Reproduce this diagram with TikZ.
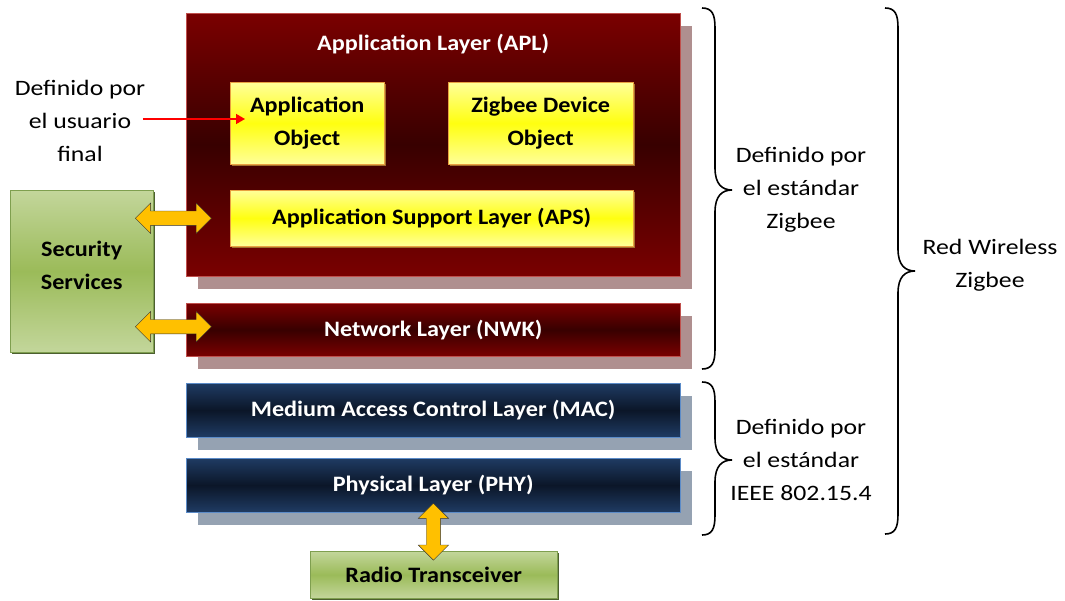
\documentclass[tikz,border=0pt]{standalone}
\usepackage{fontspec}
\setmainfont{Carlito}[FakeStretch=1.1]
\newfontfamily\notefont{Carlito}[FakeStretch=1.17]
\usetikzlibrary{shapes.arrows,shadows,calc,arrows.meta}

\definecolor{layred}{HTML}{7A0000}
\definecolor{layreddark}{HTML}{380000}
\definecolor{layredline}{HTML}{C0504D}
\definecolor{redshadow}{HTML}{AF8F8F}
\definecolor{layblue}{HTML}{1F3B63}
\definecolor{laybluedark}{HTML}{0B1628}
\definecolor{layblueline}{HTML}{5B8BC8}
\definecolor{blueshadow}{HTML}{95A2B2}
\definecolor{objyellow}{HTML}{FFFF99}
\definecolor{objyellowmid}{HTML}{FFFF10}
\definecolor{objline}{HTML}{E8A040}
\definecolor{secgreen}{HTML}{C3D69B}
\definecolor{secgreendark}{HTML}{9BBB59}
\definecolor{secline}{HTML}{7F9F4F}
\definecolor{arrowfill}{HTML}{FFC000}

% curly brace: x, top, tip, bottom
\newcommand{\layerbrace}[4]{%
  \draw[line width=1.6pt] (#1,#2) .. controls (#1+10,#2) and (#1+13,#2+6) .. (#1+13,#2+20)
    -- (#1+13,#3-22) .. controls (#1+13,#3-6) and (#1+20,#3) .. (#1+30,#3)
    .. controls (#1+20,#3) and (#1+13,#3+6) .. (#1+13,#3+22)
    -- (#1+13,#4-20) .. controls (#1+13,#4-6) and (#1+10,#4) .. (#1,#4);}

\begin{document}
\begin{tikzpicture}[x=1pt,y=-1pt,
  boxtext/.style={font=\bfseries\fontsize{22}{33}\selectfont, align=center},
  redlayer/.style={boxtext, draw=layredline, top color=layred, bottom color=layred, middle color=layreddark,
    general shadow={fill=redshadow, shadow xshift=12pt, shadow yshift=-13pt},
    minimum width=494pt, anchor=north west, inner sep=0pt, text=white},
  bluelayer/.style={boxtext, draw=layblueline, top color=layblue, bottom color=layblue, middle color=laybluedark,
    general shadow={fill=blueshadow, shadow xshift=12pt, shadow yshift=-13pt},
    minimum width=494pt, minimum height=54pt, anchor=north west, inner sep=0pt, text=white},
  yelbox/.style={boxtext, draw=objline, top color=objyellow, bottom color=objyellow, middle color=objyellowmid,
    general shadow={fill=objline!70!black, shadow xshift=2pt, shadow yshift=-2pt},
    anchor=north west, inner sep=0pt},
  greenbox/.style={boxtext, draw=secline, top color=secgreen, bottom color=secgreen, middle color=secgreendark,
    general shadow={fill=secline!60!black, shadow xshift=2pt, shadow yshift=-2pt},
    anchor=north west, inner sep=0pt},
  dblarrow/.style={double arrow, draw=black!80, fill=arrowfill, inner sep=7pt, minimum width=30pt,
    double arrow head extend=8pt},
  note/.style={font=\notefont\fontsize{22}{33}\selectfont, align=center}
]
\useasboundingbox (0,0) rectangle (1065,600);

% zigbee layers
\node[redlayer, minimum height=263pt,
  label={[boxtext, text=white, anchor=center, yshift=-31pt]north:Application Layer (APL)}] (apl) at (186,13) {};
\node[yelbox, minimum width=154pt, minimum height=82pt] (appobj) at (230,82) {Application\\Object};
\node[yelbox, minimum width=185pt, minimum height=82pt] (zdo) at (448,82) {Zigbee Device\\Object};
\node[yelbox, minimum width=403pt, minimum height=56pt] (aps) at (230,190) {Application Support Layer (APS)};
\node[redlayer, minimum height=53pt] (nwk) at (186,303) {Network Layer (NWK)};

% ieee layers
\node[bluelayer] (mac) at (186,383) {Medium Access Control Layer (MAC)};
\node[bluelayer] (phy) at (186,458) {Physical Layer (PHY)};

\node[greenbox, minimum width=143pt, minimum height=162pt, text depth=12pt] (sec) at (10,190) {Security\\Services};
\node[greenbox, minimum width=247pt, minimum height=47pt] (radio) at (310,551) {Radio Transceiver};

\node[dblarrow, minimum height=76pt] (secaps) at ($(sec.east |- aps.west)+(20,0)$) {};
\node[dblarrow, minimum height=76pt] (secnwk) at ($(sec.east |- nwk.west)+(20,-3)$) {};
\node[dblarrow, rotate=90, minimum height=57pt] (phyradio) at ($(phy.south)!0.5!(radio.north)$) {};

\node[note] (usr) at (80,121) {Definido por\\el usuario\\final};
\draw[red, line width=1.6pt, -{Triangle[length=9pt,width=10pt]}] ($(usr.east)+(-6,-2)$) -- ($(appobj.west |- usr.east)+(15,-2)$);

% braces
\layerbrace{702}{8}{190}{369}
\layerbrace{702}{382}{460}{535}
\layerbrace{885}{8}{271}{534}
\node[note] (zbstd) at (801,190) {Definido por\\el estándar\\Zigbee};
\node[note] (ieee) at (801,460) {Definido por\\el estándar\\IEEE 802.15.4};
\node[note] (rwz) at (990,265) {Red Wireless\\Zigbee};
\end{tikzpicture}
\end{document}
